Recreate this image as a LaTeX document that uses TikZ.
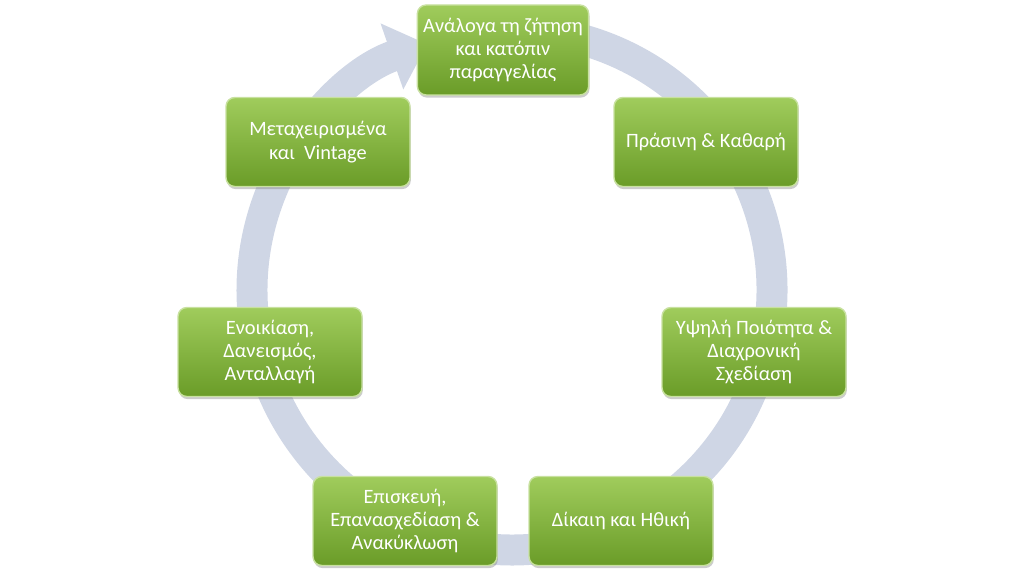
\documentclass[tikz,border=0pt]{standalone}
\usepackage{fontspec}
\setmainfont{Carlito}
\usetikzlibrary{arrows.meta,shadows}
\definecolor{ringc}{RGB}{207,214,229}
\definecolor{gtop}{RGB}{160,204,92}
\definecolor{gbot}{RGB}{106,156,40}
\definecolor{gbord}{RGB}{200,225,160}
\begin{document}
\begin{tikzpicture}[x=0.02cm,y=0.02cm,
  box/.style={rounded corners=5pt,draw=gbord,line width=0.8pt,top color=gtop,bottom color=gbot,
    minimum width=3.68cm,minimum height=1.78cm,align=center,text=white,font=\fontsize{11.6}{13.2}\selectfont,
    drop shadow={shadow xshift=0.5pt,shadow yshift=-1.5pt,opacity=0.4}}]
\useasboundingbox (0,0) rectangle (1026,577);
\coordinate (c) at (512,287);
\draw[ringc,line width=0.62cm,-{Triangle[width=1.35cm,length=0.75cm]}] (c) ++(75:5.2cm) arc[start angle=75,end angle=-251,radius=5.2cm];
\node[box,minimum width=3.3cm,minimum height=1.8cm] (a) at (503,527) {Ανάλογα τη ζήτηση\\και κατόπιν\\παραγγελίας};
\node[box] (b) at (706,435) {Πράσινη \& Καθαρή};
\node[box] (d) at (754,225) {Υψηλή Ποιότητα \&\\Διαχρονική\\Σχεδίαση};
\node[box] (e) at (621,56) {Δίκαιη και Ηθική};
\node[box] (f) at (405,56) {Επισκευή,\\Επανασχεδίαση \&\\Ανακύκλωση};
\node[box] (g) at (270,225) {Ενοικίαση,\\Δανεισμός,\\Ανταλλαγή};
\node[box] (h) at (318,435) {Μεταχειρισμένα\\και \ Vintage};
\end{tikzpicture}
\end{document}
